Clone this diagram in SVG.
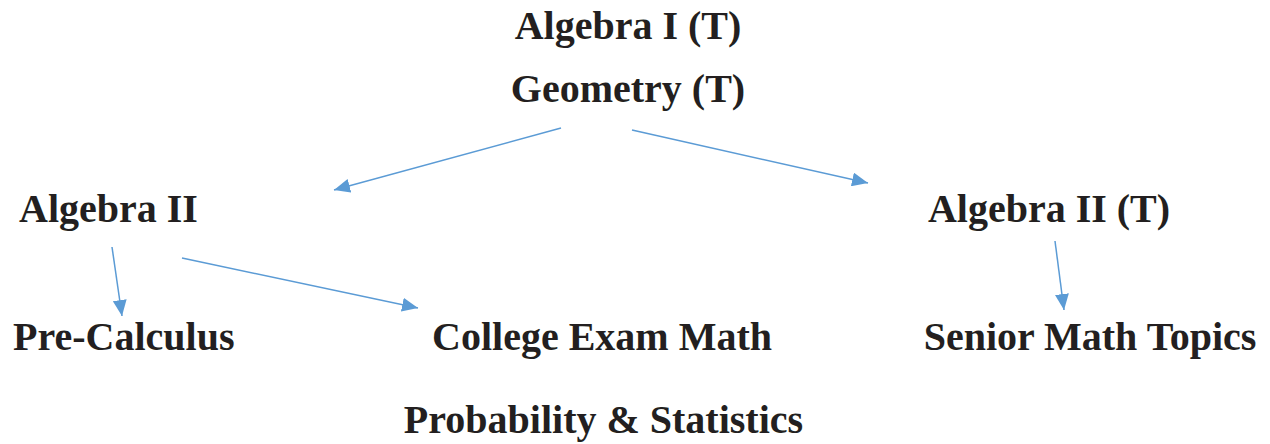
<svg xmlns="http://www.w3.org/2000/svg" width="1270" height="444" viewBox="0 0 1270 444">
<style>
.t{font-family:"Liberation Serif","Times New Roman",serif;font-weight:bold;font-size:40px;fill:#231f20}
.c{stroke:#5b9bd5;stroke-width:1.5;fill:none}
</style>
<defs>
<marker id="ah" markerUnits="userSpaceOnUse" markerWidth="18" markerHeight="14" refX="16" refY="7" orient="auto">
<path d="M0,0 L16,7 L0,14 Z" fill="#5b9bd5"/>
</marker>
</defs>
<rect width="1270" height="444" fill="#fff"/>
<g id="connectors">
<line class="c" x1="561" y1="128" x2="334" y2="190" marker-end="url(#ah)"/>
<line class="c" x1="632" y1="130" x2="868" y2="183" marker-end="url(#ah)"/>
<line class="c" x1="112" y1="247" x2="122" y2="316" marker-end="url(#ah)"/>
<line class="c" x1="182" y1="258" x2="418" y2="308" marker-end="url(#ah)"/>
<line class="c" x1="1055" y1="241" x2="1064" y2="310" marker-end="url(#ah)"/>
</g>
<g id="n-top"><text class="t" x="628" y="39" text-anchor="middle">Algebra I (T)</text><text class="t" x="628" y="102" text-anchor="middle">Geometry (T)</text></g>
<g id="n-alg2"><text class="t" x="19" y="222">Algebra II</text></g>
<g id="n-alg2t"><text class="t" x="1049" y="222" text-anchor="middle">Algebra II (T)</text></g>
<g id="n-precalc"><text class="t" x="13" y="350">Pre-Calculus</text></g>
<g id="n-college"><text class="t" x="602" y="350" text-anchor="middle">College Exam Math</text></g>
<g id="n-senior"><text class="t" x="1090" y="350" text-anchor="middle">Senior Math Topics</text></g>
<g id="n-prob"><text class="t" x="603.5" y="433" text-anchor="middle">Probability &amp; Statistics</text></g>
</svg>
